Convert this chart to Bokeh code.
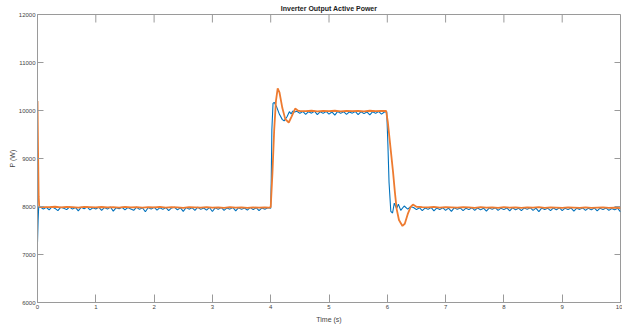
import numpy as np
from bokeh.plotting import figure
from bokeh.models import FixedTicker
from bokeh.embed import file_html
from bokeh.resources import INLINE

# ---------------- data ----------------
x_ticks = [0, 1, 2, 3, 4, 5, 6, 7, 8, 9, 10]
y_ticks = [6000, 7000, 8000, 9000, 10000, 11000, 12000]
x_min, x_max = 0, 10
y_min, y_max = 6000, 12000

# blue series
blue_start_t = [0.0, 0.01, 0.02]
blue_start_v = [7250, 7700, 7985]
blue_a = [7990, 7945, 7985, 7930, 7995, 7960, 7915, 7985, 7965, 7935,
          7990, 7945, 7980, 7910, 7985, 7955, 7990, 7930, 7975, 7950,
          7985, 7920, 7980, 7945, 7990, 7905, 7975, 7955, 7985, 7930,
          7980, 7950, 7920, 7985, 7940, 7975, 7890, 7980, 7945, 7985,
          7925, 7975, 7940, 7980, 7915, 7970, 7985, 7930, 7975, 7900,
          7980, 7945, 7975, 7920, 7985, 7940, 7970, 7925, 7980, 7895,
          7975, 7940, 7980, 7920, 7970, 7945, 7980, 7910, 7975, 7940,
          7970, 7925, 7980, 7935, 7975, 7915, 7970, 7945, 7975]
blue_up_t = [4.0, 4.01, 4.02, 4.04, 4.06, 4.1, 4.15, 4.2, 4.23, 4.28, 4.32, 4.35, 4.38, 4.41]
blue_up_v = [7965, 8600, 9600, 10150, 10170, 10080, 9920, 9810, 9785, 9870, 9975, 9930, 9990, 9970]
blue_b = [9985, 9940, 9980, 9920, 9975, 9945, 9985, 9915, 9975, 9940,
          9980, 9925, 9970, 9905, 9980, 9940, 9975, 9920, 9970, 9945,
          9980, 9915, 9975, 9935, 9970, 9910, 9975, 9940, 9980, 9925, 9970]
blue_dn_t = [5.99, 6.01, 6.03, 6.06, 6.09, 6.12, 6.16, 6.19, 6.23, 6.29, 6.35, 6.40]
blue_dn_v = [9975, 9300, 8500, 7900, 7865, 8070, 7960, 8050, 7920, 8010, 7945, 7995]
blue_c = [7980, 7935, 7975, 7915, 7970, 7940, 7980, 7910, 7970, 7935,
          7975, 7920, 7965, 7900, 7975, 7940, 7970, 7915, 7965, 7935,
          7975, 7920, 7970, 7930, 7965, 7905, 7970, 7940, 7975, 7920,
          7965, 7935, 7970, 7910, 7975, 7930, 7965, 7915, 7970, 7940,
          7975, 7920, 7965, 7895, 7970, 7935, 7965, 7915, 7970, 7930,
          7975, 7915, 7965, 7935, 7970, 7905, 7965, 7940, 7970, 7920,
          7965, 7930, 7970, 7910, 7965, 7935, 7970, 7920, 7960, 7930,
          7965, 7890]

# orange series
orange_start_t = [0.0, 0.01, 0.02, 0.03]
orange_start_v = [10200, 9100, 8200, 7995]
orange_a = [7990, 7985, 7995, 7980, 7990, 7985, 7975, 7990, 7985, 7980,
            7990, 7980, 7985, 7975, 7990, 7980, 7985, 7975, 7985, 7980,
            7990, 7975, 7985, 7980, 7970, 7985, 7980, 7975, 7985, 7975,
            7980, 7970, 7985, 7975, 7980, 7970, 7980, 7975, 7980]
orange_up_t = [3.97, 4.0, 4.03, 4.06, 4.09, 4.12, 4.15, 4.2, 4.25, 4.31, 4.36, 4.42, 4.47]
orange_up_v = [7978, 7985, 8700, 9600, 10200, 10460, 10380, 10050, 9820, 9750, 9880, 10040, 9995]
orange_b = [9990, 9985, 9995, 9980, 9990, 9985, 9995, 9980, 9990, 9985, 9990, 9980, 9995, 9985, 9990]
orange_dn_t = [5.98, 6.01, 6.04, 6.07, 6.1, 6.13, 6.16, 6.2, 6.26, 6.3, 6.35, 6.4, 6.44, 6.5]
orange_dn_v = [9990, 9750, 9400, 9050, 8700, 8300, 7950, 7720, 7595, 7640, 7840, 7990, 8040, 7995]
orange_c = [7985, 7980, 7990, 7975, 7985, 7980, 7975, 7985, 7980, 7970,
            7985, 7975, 7980, 7970, 7985, 7975, 7980, 7970, 7980, 7975,
            7985, 7970, 7980, 7975, 7970, 7980, 7975, 7970, 7980, 7970,
            7975, 7980, 7970, 7975, 7965]

# ---------------- assemble ----------------
blue_t = np.concatenate([blue_start_t,
                         np.linspace(0.05, 3.95, len(blue_a)),
                         blue_up_t,
                         np.linspace(4.45, 5.95, len(blue_b)),
                         blue_dn_t,
                         np.linspace(6.45, 10.0, len(blue_c))])
blue_v = np.concatenate([blue_start_v, blue_a, blue_up_v, blue_b, blue_dn_v, blue_c])

orange_t = np.concatenate([orange_start_t,
                           np.linspace(0.1, 3.9, len(orange_a)),
                           orange_up_t,
                           np.linspace(4.5, 5.9, len(orange_b)),
                           orange_dn_t,
                           np.linspace(6.6, 10.0, len(orange_c))])
orange_v = np.concatenate([orange_start_v, orange_a, orange_up_v, orange_b, orange_dn_v, orange_c])

FONT = "Liberation Sans"
AX = "#9a9a9a"
LBL = "#444444"

p = figure(frame_width=583, frame_height=288,
           x_range=(x_min, x_max), y_range=(y_min, y_max),
           output_backend="svg", toolbar_location=None,
           title="Inverter Output Active Power",
           min_border_left=37, min_border_right=2,
           min_border_top=0, min_border_bottom=0)
p.background_fill_color = "white"
p.border_fill_color = "white"
p.outline_line_color = AX
p.grid.visible = False

p.title.text_font = FONT
p.title.text_font_size = "7px"
p.title.text_font_style = "bold"
p.title.text_color = "#222222"
p.title.align = "center"
p.title.standoff = 5
p.title.offset = 0

p.line(blue_t, blue_v, line_color="#0072BD", line_width=1.1)
p.line(orange_t, orange_v, line_color="#EE7B30", line_width=1.8)

# inward ticks on the top and right edges of the box (MATLAB style)
p.ray(x=x_ticks, y=[y_max] * len(x_ticks), length=8, length_units="screen",
      angle=-np.pi / 2, line_color=AX, line_width=1)
p.ray(x=[x_max] * len(y_ticks), y=y_ticks, length=6, length_units="screen",
      angle=np.pi, line_color=AX, line_width=1)

def style(ax, ticks, tick_in):
    ax.ticker = FixedTicker(ticks=ticks)
    ax.axis_line_color = AX
    ax.major_tick_line_color = AX
    ax.major_tick_in = tick_in
    ax.major_tick_out = 0
    ax.minor_tick_line_color = None
    ax.major_label_text_font = FONT
    ax.major_label_text_color = LBL
    ax.major_label_text_font_size = "6px"
    ax.major_label_standoff = 2
    ax.axis_label_text_font = FONT
    ax.axis_label_text_font_size = "7px"
    ax.axis_label_text_font_style = "normal"
    ax.axis_label_text_color = LBL

xa = p.xaxis[0]
style(xa, x_ticks, 8)
xa.axis_label = "Time (s)"
xa.axis_label_standoff = 4

ya = p.yaxis[0]
style(ya, y_ticks, 6)
ya.axis_label = "P (W)"
ya.axis_label_standoff = 0

open("out.html", "w").write(file_html(p, INLINE))
